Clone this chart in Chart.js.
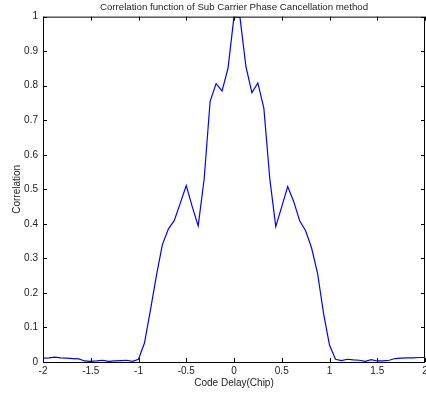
<!DOCTYPE html>
<html>
<head>
<meta charset="utf-8">
<script src="https://cdn.jsdelivr.net/npm/chart.js@4/dist/chart.umd.min.js"></script>
<style>
  html, body { margin: 0; padding: 0; background: #fff; }
  #wrap { width: 426px; height: 397px; }
</style>
</head>
<body>
<div id="wrap"><canvas id="grafico"></canvas></div>
<script>
// datos
const delays = [-2, -1.9375, -1.875, -1.8125, -1.75, -1.6875, -1.625, -1.5625, -1.5, -1.4375,
  -1.375, -1.3125, -1.25, -1.1875, -1.125, -1.0625, -1, -0.9375, -0.875, -0.8125,
  -0.75, -0.6875, -0.625, -0.5625, -0.5, -0.4375, -0.375, -0.3125, -0.25, -0.1875,
  -0.125, -0.0625, 0, 0.0625, 0.125, 0.1875, 0.25, 0.3125, 0.375, 0.4375,
  0.5, 0.5625, 0.625, 0.6875, 0.75, 0.8125, 0.875, 0.9375, 1, 1.0625,
  1.125, 1.1875, 1.25, 1.3125, 1.375, 1.4375, 1.5, 1.5625, 1.625, 1.6875,
  1.75, 1.8125, 1.875, 1.9375, 2];
const correlation = [0.011, 0.012, 0.014, 0.012, 0.011, 0.010, 0.009, 0.003, 0.002, 0.003,
  0.005, 0.002, 0.003, 0.004, 0.005, 0.002, 0.008, 0.055, 0.15, 0.25,
  0.34, 0.385, 0.41, 0.46, 0.511, 0.45, 0.394, 0.53, 0.755, 0.806,
  0.785, 0.851, 1.0, 0.998, 0.855, 0.78, 0.808, 0.735, 0.53, 0.392,
  0.45, 0.508, 0.465, 0.409, 0.38, 0.33, 0.257, 0.141, 0.049, 0.008,
  0.004, 0.008, 0.006, 0.005, 0.002, 0.007, 0.003, 0.003, 0.005, 0.010,
  0.011, 0.012, 0.012, 0.013, 0.013];
const xTicks = [-2, -1.5, -1, -0.5, 0, 0.5, 1, 1.5, 2];
const yTicks = [0, 0.1, 0.2, 0.3, 0.4, 0.5, 0.6, 0.7, 0.8, 0.9, 1];

const fuente = "'Liberation Sans', Arial, sans-serif";
const tinta = '#222';

// caja y marcas hacia adentro, estilo matlab
const cajaMatlab = {
  id: 'cajaMatlab',
  afterDraw(chart) {
    const { ctx, chartArea: a, scales } = chart;
    const L = 4;
    ctx.save();
    ctx.strokeStyle = '#000';
    ctx.lineWidth = 1;
    ctx.beginPath();
    xTicks.forEach(v => {
      const px = Math.round(scales.x.getPixelForValue(v)) + 0.5;
      ctx.moveTo(px, a.bottom); ctx.lineTo(px, a.bottom - L);
      ctx.moveTo(px, a.top); ctx.lineTo(px, a.top + L);
    });
    yTicks.forEach(v => {
      const py = Math.round(scales.y.getPixelForValue(v)) + 0.5;
      ctx.moveTo(a.left, py); ctx.lineTo(a.left + L, py);
      ctx.moveTo(a.right, py); ctx.lineTo(a.right - L, py);
    });
    ctx.stroke();
    ctx.strokeRect(a.left + 0.5, a.top + 0.5, a.right - a.left - 1, a.bottom - a.top);
    ctx.restore();
  }
};

const ctx = document.getElementById('grafico').getContext('2d');
new Chart(ctx, {
  type: 'line',
  data: {
    datasets: [{
      data: delays.map((d, i) => ({ x: d, y: correlation[i] })),
      borderColor: '#0000ff',
      borderWidth: 1.2,
      pointRadius: 0,
      tension: 0,
      fill: false
    }]
  },
  options: {
    responsive: true,
    maintainAspectRatio: false,
    animation: false,
    layout: { padding: { left: 0, right: 1, top: 0, bottom: 0 } },
    plugins: {
      legend: { display: false },
      tooltip: { enabled: false },
      title: {
        display: true,
        fullSize: false,
        text: 'Correlation function of Sub Carrier Phase Cancellation method',
        color: tinta,
        font: { family: fuente, size: 9.7, weight: 'normal' },
        padding: { top: 2, bottom: 3 }
      }
    },
    scales: {
      x: {
        type: 'linear',
        min: -2,
        max: 2,
        afterBuildTicks: s => { s.ticks = xTicks.map(v => ({ value: v })); },
        afterFit: s => { s.height = 35; s.paddingLeft = 0; s.paddingRight = 0; },
        grid: { display: false, drawTicks: false },
        border: { display: false },
        ticks: {
          color: tinta, padding: 3, maxRotation: 0,
          font: { family: fuente, size: 10 },
          callback: v => String(v)
        },
        title: {
          display: true,
          text: 'Code Delay(Chip)',
          color: tinta,
          font: { family: fuente, size: 10 },
          padding: { top: 0, bottom: 8 }
        }
      },
      y: {
        min: 0,
        max: 1,
        afterBuildTicks: s => { s.ticks = yTicks.map(v => ({ value: v })); },
        afterFit: s => { s.width = 43; s.paddingTop = 0; s.paddingBottom = 0; },
        grid: { display: false, drawTicks: false },
        border: { display: false },
        ticks: {
          color: tinta, padding: 5,
          font: { family: fuente, size: 10 },
          callback: v => String(v)
        },
        title: {
          display: true,
          text: 'Correlation',
          color: tinta,
          font: { family: fuente, size: 10 },
          padding: { top: 11, bottom: 0 }
        }
      }
    }
  },
  plugins: [cajaMatlab]
});
</script>
</body>
</html>
